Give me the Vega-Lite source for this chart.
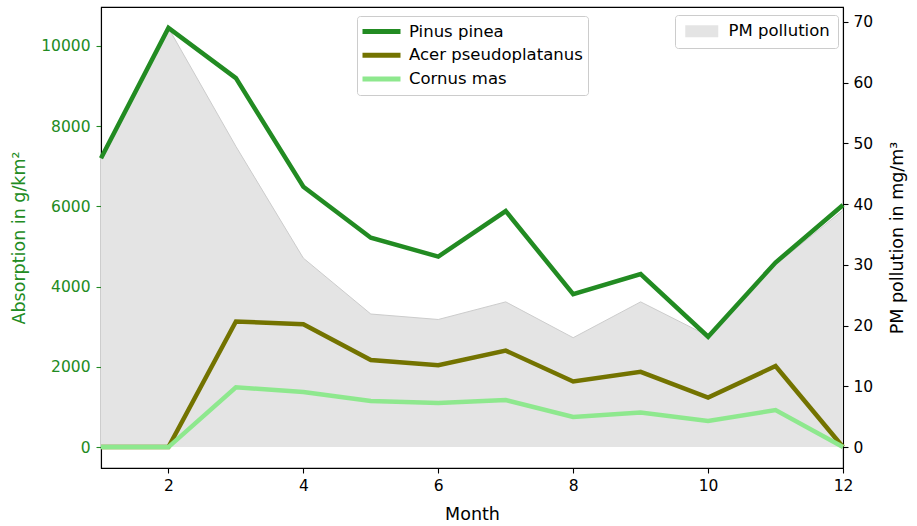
{
  "$schema": "https://vega.github.io/schema/vega-lite/v6.json",
  "width": 742,
  "height": 461,
  "autosize": {"type": "none"},
  "padding": {"left": 101, "top": 7, "right": 74, "bottom": 58},
  "background": "white",
  "config": {
    "font": "DejaVu Sans",
    "view": {"stroke": "black", "strokeWidth": 1.1},
    "axis": {
      "grid": false,
      "labelFont": "DejaVu Sans",
      "titleFont": "DejaVu Sans",
      "labelFontSize": 15.5,
      "titleFontSize": 17.5,
      "titleFontWeight": "normal",
      "tickSize": 5,
      "tickWidth": 1.1,
      "domainColor": "black",
      "domainWidth": 1.1,
      "tickColor": "black",
      "labelColor": "black",
      "titleColor": "black"
    },
    "legend": {
      "labelFont": "DejaVu Sans",
      "labelFontSize": 16.5,
      "labelColor": "black",
      "labelLimit": 400
    }
  },
  "datasets": {
    "trees": [
      {"month": 1, "species": "Pinus pinea", "absorption": 7200},
      {"month": 2, "species": "Pinus pinea", "absorption": 10450},
      {"month": 3, "species": "Pinus pinea", "absorption": 9200},
      {"month": 4, "species": "Pinus pinea", "absorption": 6490},
      {"month": 5, "species": "Pinus pinea", "absorption": 5220},
      {"month": 6, "species": "Pinus pinea", "absorption": 4750},
      {"month": 7, "species": "Pinus pinea", "absorption": 5885},
      {"month": 8, "species": "Pinus pinea", "absorption": 3810},
      {"month": 9, "species": "Pinus pinea", "absorption": 4315},
      {"month": 10, "species": "Pinus pinea", "absorption": 2750},
      {"month": 11, "species": "Pinus pinea", "absorption": 4600},
      {"month": 12, "species": "Pinus pinea", "absorption": 6035},
      {"month": 1, "species": "Acer pseudoplatanus", "absorption": 0},
      {"month": 2, "species": "Acer pseudoplatanus", "absorption": 0},
      {"month": 3, "species": "Acer pseudoplatanus", "absorption": 3130},
      {"month": 4, "species": "Acer pseudoplatanus", "absorption": 3060},
      {"month": 5, "species": "Acer pseudoplatanus", "absorption": 2170},
      {"month": 6, "species": "Acer pseudoplatanus", "absorption": 2040},
      {"month": 7, "species": "Acer pseudoplatanus", "absorption": 2405},
      {"month": 8, "species": "Acer pseudoplatanus", "absorption": 1635},
      {"month": 9, "species": "Acer pseudoplatanus", "absorption": 1875},
      {"month": 10, "species": "Acer pseudoplatanus", "absorption": 1235},
      {"month": 11, "species": "Acer pseudoplatanus", "absorption": 2020},
      {"month": 12, "species": "Acer pseudoplatanus", "absorption": 0},
      {"month": 1, "species": "Cornus mas", "absorption": 0},
      {"month": 2, "species": "Cornus mas", "absorption": 0},
      {"month": 3, "species": "Cornus mas", "absorption": 1490},
      {"month": 4, "species": "Cornus mas", "absorption": 1375},
      {"month": 5, "species": "Cornus mas", "absorption": 1150},
      {"month": 6, "species": "Cornus mas", "absorption": 1100},
      {"month": 7, "species": "Cornus mas", "absorption": 1172},
      {"month": 8, "species": "Cornus mas", "absorption": 752},
      {"month": 9, "species": "Cornus mas", "absorption": 860},
      {"month": 10, "species": "Cornus mas", "absorption": 648},
      {"month": 11, "species": "Cornus mas", "absorption": 923},
      {"month": 12, "species": "Cornus mas", "absorption": 0}
    ],
    "pm": [
      {"month": 1, "pm": 47.5, "series": "PM pollution"},
      {"month": 2, "pm": 69, "series": "PM pollution"},
      {"month": 3, "pm": 49.5, "series": "PM pollution"},
      {"month": 4, "pm": 31.1, "series": "PM pollution"},
      {"month": 5, "pm": 21.9, "series": "PM pollution"},
      {"month": 6, "pm": 21, "series": "PM pollution"},
      {"month": 7, "pm": 23.9, "series": "PM pollution"},
      {"month": 8, "pm": 18, "series": "PM pollution"},
      {"month": 9, "pm": 23.9, "series": "PM pollution"},
      {"month": 10, "pm": 18.3, "series": "PM pollution"},
      {"month": 11, "pm": 30, "series": "PM pollution"},
      {"month": 12, "pm": 39, "series": "PM pollution"}
    ]
  },
  "layer": [
    {
      "data": {"name": "pm"},
      "encoding": {
        "x": {"field": "month", "type": "quantitative", "scale": {"domain": [1, 12], "nice": false, "zero": false},
              "axis": {"values": [2, 4, 6, 8, 10, 12], "format": "d", "title": "Month", "labelPadding": 5, "titlePadding": 12, "labelFlush": false}},
        "y": {"field": "pm", "type": "quantitative", "scale": {"domain": [-3.45, 72.45], "nice": false, "zero": false},
              "axis": {"orient": "right", "values": [0, 10, 20, 30, 40, 50, 60, 70], "format": "d", "title": "PM pollution in mg/m³", "titleAngle": -90, "labelPadding": 5, "titlePadding": 34}}
      },
      "layer": [
        {
          "mark": {"type": "area", "fillOpacity": 1},
          "encoding": {
            "y2": {"datum": 0},
            "fill": {"field": "series", "type": "nominal",
                     "scale": {"domain": ["PM pollution"], "range": ["#e4e4e4"]},
                     "legend": {"orient": "none", "legendX": 574, "legendY": 8, "title": null,
                                "symbolType": "M-1,-1H4.5V1H-1Z", "symbolSize": 144,
                                "symbolStrokeWidth": 0, "symbolOpacity": 1,
                                "strokeColor": "#cccccc", "fillColor": "white", "cornerRadius": 3, "padding": 8, "labelOffset": 29}}
          }
        },
        {
          "mark": {"type": "line", "stroke": "#cccccc", "strokeWidth": 1},
          "encoding": {}
        }
      ]
    },
    {
      "data": {"name": "trees"},
      "mark": {"type": "line", "strokeWidth": 4.5},
      "encoding": {
        "x": {"field": "month", "type": "quantitative", "scale": {"domain": [1, 12], "nice": false, "zero": false}},
        "y": {"field": "absorption", "type": "quantitative", "scale": {"domain": [-522, 10972], "nice": false, "zero": false},
              "axis": {"orient": "left", "values": [0, 2000, 4000, 6000, 8000, 10000], "format": "d", "title": "Absorption in g/km²",
                       "labelColor": "#228B22", "tickColor": "#228B22", "titleColor": "#228B22", "labelPadding": 6, "titlePadding": 12}},
        "color": {"field": "species", "type": "nominal",
                  "scale": {"domain": ["Pinus pinea", "Acer pseudoplatanus", "Cornus mas"], "range": ["#228B22", "#737300", "#8ee88e"]},
                  "legend": {"orient": "none", "legendX": 256, "legendY": 9, "title": null,
                             "symbolType": "M-1.25,0H3.5", "symbolSize": 256, "symbolStrokeWidth": 5,
                             "rowPadding": 2.8,
                             "strokeColor": "#cccccc", "fillColor": "white", "cornerRadius": 3, "padding": 5, "labelOffset": 26}},
        "order": {"field": "species"}
      }
    }
  ],
  "resolve": {"scale": {"y": "independent"}}
}
